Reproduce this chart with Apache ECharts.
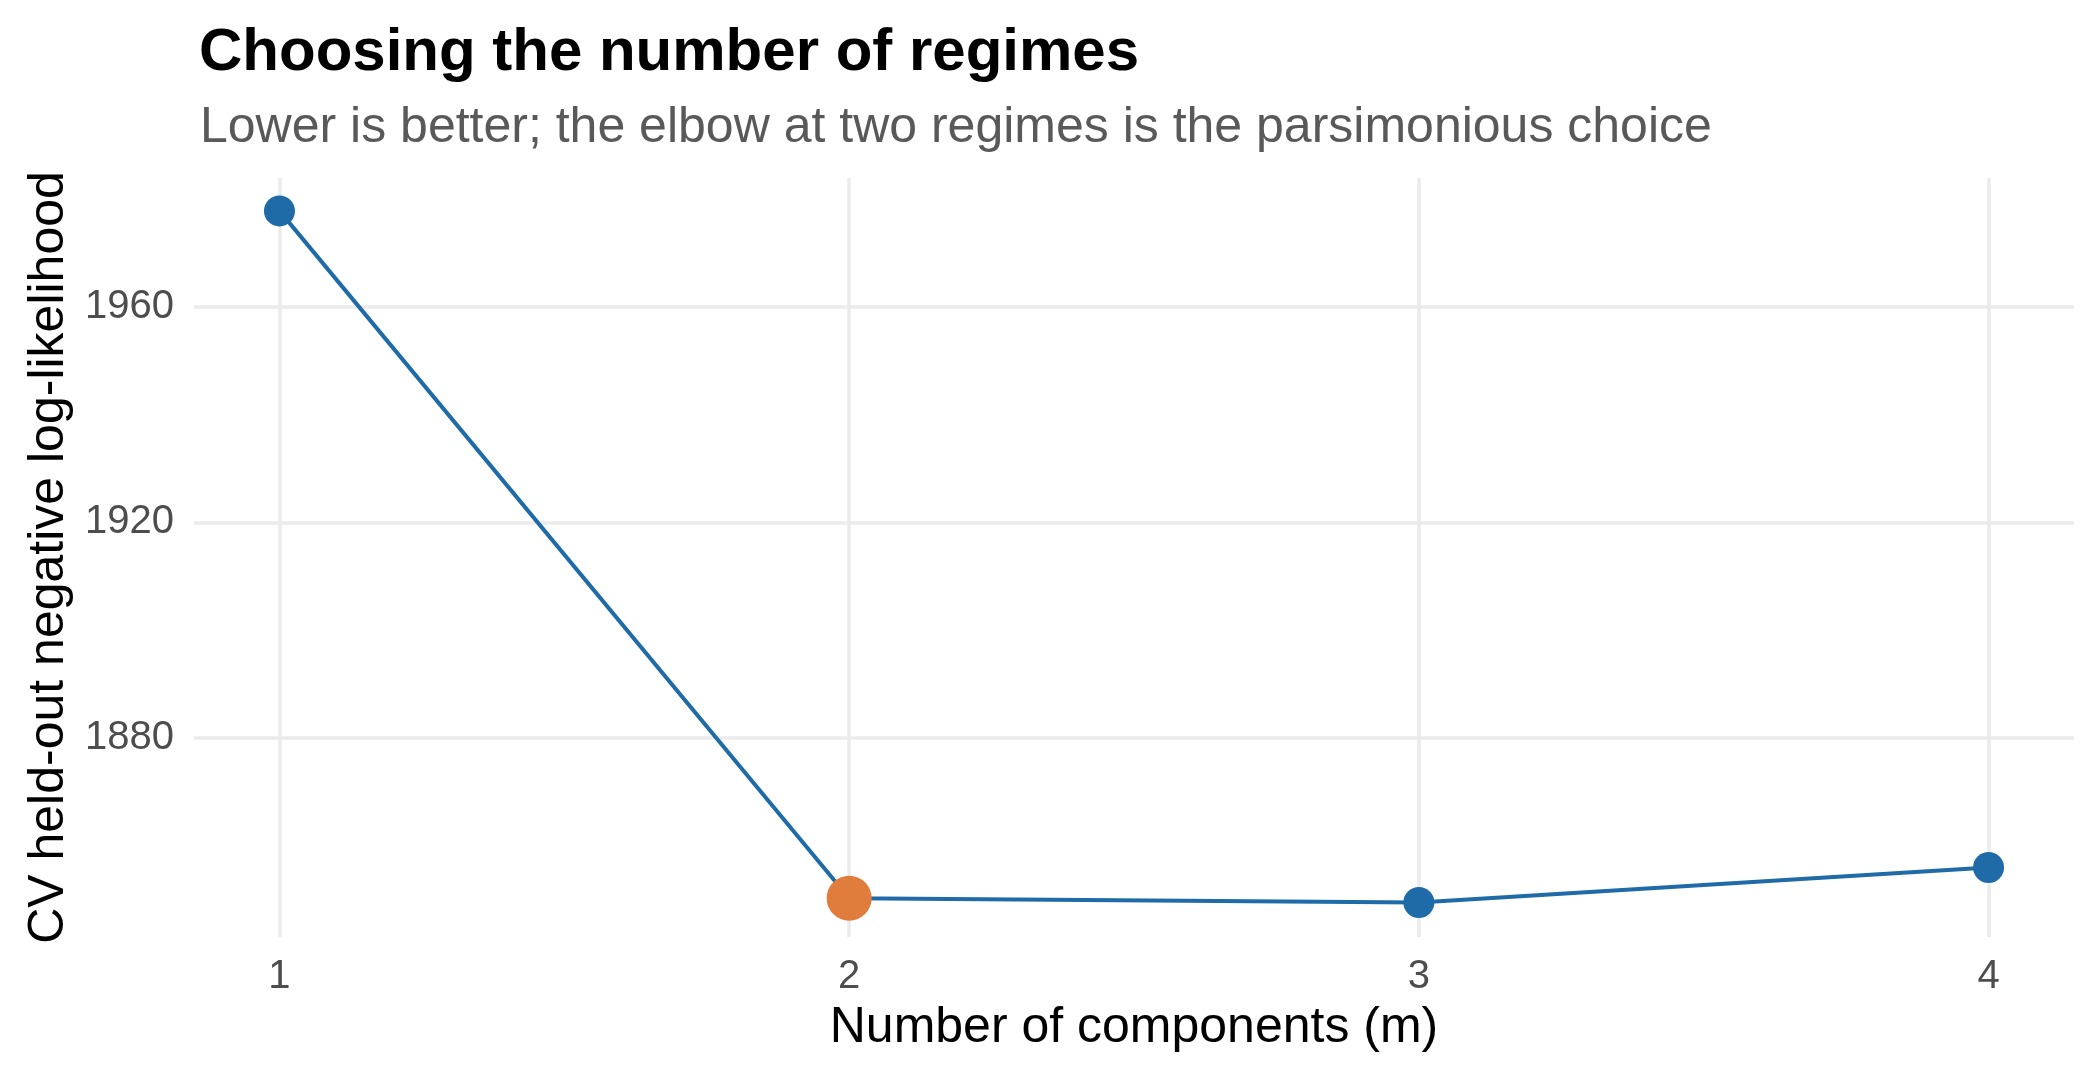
<!DOCTYPE html>
<html>
<head>
<meta charset="utf-8">
<script src="https://cdn.jsdelivr.net/npm/echarts@6/dist/echarts.min.js"></script>
<style>
  html, body { margin: 0; padding: 0; background: #fff; }
  #main { width: 2100px; height: 1080px; }
</style>
</head>
<body>
<div id="main"></div>
<script>
var chartDom = document.getElementById('main');
var myChart = echarts.init(chartDom);
var option;

// data
const components = [1, 2, 3, 4];
const heldOutNll = [1977.8, 1850.3, 1849.5, 1856.0];
const chosenIndex = 1; // two regimes
const yTicks = [1880, 1920, 1960];

const lineColor = '#1f6ba8';
const chosenColor = '#e07c3c';
const FONT = '"Liberation Sans", Arial, sans-serif';

const lineData = components.map(function (m, i) {
    const item = { value: [m, heldOutNll[i]] };
    if (i === chosenIndex) {
        item.symbolSize = 45;
        item.itemStyle = { color: chosenColor };
    }
    return item;
});

option = {
    animation: false,
    backgroundColor: '#ffffff',
    textStyle: { fontFamily: FONT },
    title: [
        {
            text: 'Choosing the number of regimes',
            left: 194,
            top: 18,
            textStyle: { fontSize: 60, fontWeight: 'bold', color: '#000', fontFamily: FONT }
        },
        {
            text: 'Lower is better; the elbow at two regimes is the parsimonious choice',
            left: 195,
            top: 98,
            textStyle: { fontSize: 50, fontWeight: 'normal', color: '#595959', fontFamily: FONT }
        }
    ],
    grid: {
        left: 194,
        right: 26,
        top: 178,
        bottom: 143,
        containLabel: false
    },
    xAxis: {
        type: 'value',
        min: 0.85,
        max: 4.15,
        name: 'Number of components (m)',
        nameLocation: 'middle',
        nameGap: 66,
        nameTextStyle: { fontSize: 50, color: '#000', fontFamily: FONT },
        axisLine: { show: false },
        axisTick: { show: false, customValues: components },
        axisLabel: {
            customValues: components,
            fontSize: 40,
            color: '#4d4d4d',
            margin: 20,
            fontFamily: FONT,
            formatter: function (v) { return String(v); }
        },
        splitLine: { show: true, lineStyle: { color: '#ebebeb', width: 3.5 } }
    },
    yAxis: {
        type: 'value',
        min: 1843.1,
        max: 1983.9,
        name: 'CV held-out negative log-likelihood',
        nameLocation: 'middle',
        nameGap: 112,
        nameTextStyle: { fontSize: 50, color: '#000', fontFamily: FONT },
        axisLine: { show: false },
        axisTick: { show: false, customValues: yTicks },
        axisLabel: {
            customValues: yTicks,
            fontSize: 40,
            color: '#4d4d4d',
            margin: 20,
            fontFamily: FONT,
            formatter: function (v) { return String(v); }
        },
        splitLine: { show: true, lineStyle: { color: '#ebebeb', width: 3.5 } }
    },
    series: [
        {
            type: 'line',
            data: lineData,
            symbol: 'circle',
            symbolSize: 31,
            lineStyle: { color: lineColor, width: 4 },
            itemStyle: { color: lineColor },
            emphasis: { disabled: true }
        }
    ]
};

option && myChart.setOption(option);
</script>
</body>
</html>
